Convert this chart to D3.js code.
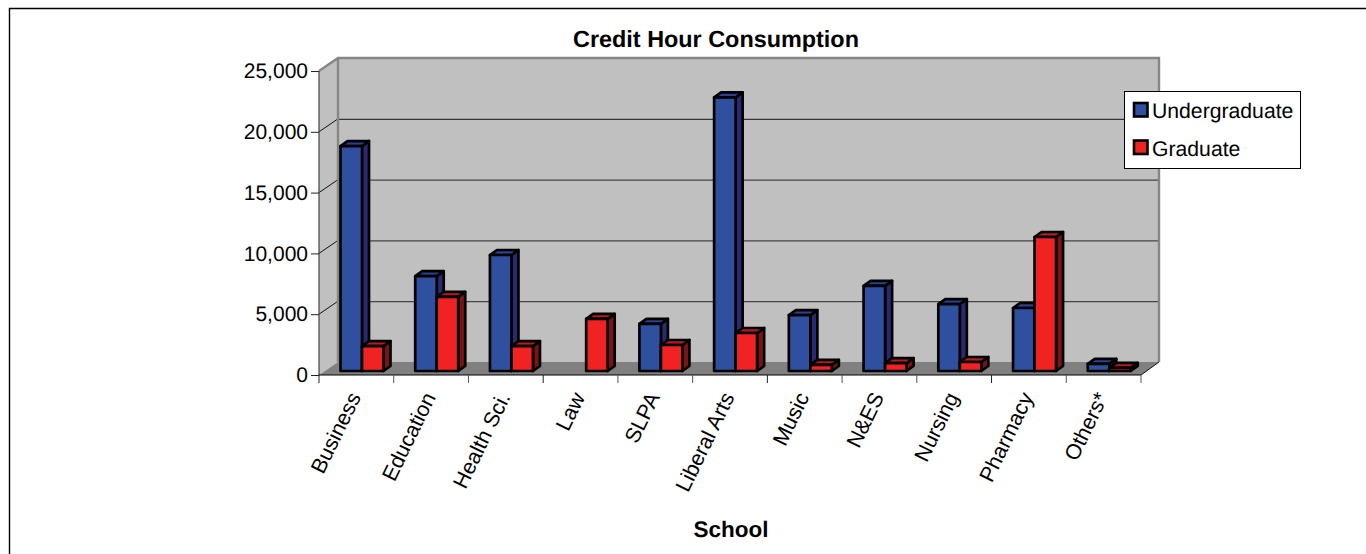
<!DOCTYPE html>
<html><head><meta charset="utf-8">
<script src="https://cdn.jsdelivr.net/npm/d3@7"></script>
<style>html,body{margin:0;padding:0;background:#fff}svg{display:block}text{font-family:"Liberation Sans",Arial,sans-serif;fill:#000;text-rendering:geometricPrecision}</style>
</head><body><div id="c"></div>
<script>
const categories = ["Business","Education","Health Sci.","Law","SLPA","Liberal Arts","Music","N&ES","Nursing","Pharmacy","Others*"];
const undergraduate = [18500,7800,9540,0,3870,22500,4600,7000,5500,5180,580];
const graduate = [2050,6100,2050,4280,2140,3125,500,650,740,11020,250];
const seriesNames = ["Undergraduate","Graduate"];
const yTicks = [0,5000,10000,15000,20000,25000];

const W=1366,H=554;
const svg=d3.select("#c").append("svg").attr("width",W).attr("height",H);
const x0=319,x1=1141,yB=375,yT=71;
const wx=19,wy=13;
const x=d3.scaleBand().domain(categories).range([x0,x1]);
const y=d3.scaleLinear().domain([0,25000]).range([yB,yT]);
const inner=d3.scaleBand().domain(seriesNames).range([21.5,64.5]);
const colors={Undergraduate:{f:"#2f4f9f",t:"#2b4090",s:"#2a2a72"},Graduate:{f:"#f02222",t:"#b01e1e",s:"#7c1414"}};
const by=4,dx=7,dy=5;

// frame
svg.append("path").attr("d",`M9.5,${H}V8.5H${W}`).attr("fill","none").attr("stroke","#000").attr("stroke-width",1.4);

// walls
svg.append("polygon").attr("points",[[x0,yB],[x0+wx,yB-wy],[x0+wx,yT-wy],[x0,yT]].join(" ")).attr("fill","#c0c0c0");
svg.append("rect").attr("x",x0+wx).attr("y",yT-wy).attr("width",x1-x0).attr("height",yB-yT).attr("fill","#c0c0c0");
svg.append("polygon").attr("points",[[x0,yB],[x0+wx,yB-wy],[x1+wx-1,yB-wy],[x1,yB]].join(" ")).attr("fill","#808080");

// gridlines
const gridCol=d=>d>=20000?"#111":"#444";
svg.selectAll(".g").data(yTicks.filter(d=>d>0&&d<25000)).join("line")
  .attr("x1",x0+wx).attr("x2",x1+wx-1).attr("y1",d=>y(d)-wy+.5).attr("y2",d=>y(d)-wy+.5)
  .attr("stroke",gridCol).attr("stroke-width",d=>d>=20000?1:1.3);
svg.selectAll(".d").data(yTicks.filter(d=>d>0&&d<25000)).join("line")
  .attr("x1",x0).attr("x2",x0+wx).attr("y1",d=>y(d)).attr("y2",d=>y(d)-wy)
  .attr("stroke","#111").attr("stroke-width",1);

// wall outlines
svg.append("path").attr("d",`M${x0},${yT}L${x0+wx},${yT-wy}H${x1+wx-1}V${yB-wy}M${x0+wx},${yT-wy}V${yB-wy}`)
  .attr("fill","none").attr("stroke","#868686").attr("stroke-width",2.4);

// axes
const axL=d3.axisLeft(y).tickValues(yTicks).tickFormat(d3.format(",")).tickSize(8).tickPadding(3);
const gL=svg.append("g").attr("transform",`translate(${x0},0)`).call(axL);
gL.selectAll("text").attr("font-size",21).attr("font-family",'"Liberation Sans"');
gL.selectAll(".tick line").attr("stroke","#222");
gL.select(".domain").attr("stroke","#444").attr("stroke-width",1.2).attr("d",`M0,${yT}V${yB}`);

// bars
const rows=categories.map((c,i)=>({c,vals:[undergraduate[i],graduate[i]]}));
const g=svg.append("g").attr("stroke","#000").attr("stroke-width",2.7).attr("stroke-linejoin","round");
rows.forEach(r=>{
  r.vals.forEach((v,k)=>{
    if(!v) return;
    const n=seriesNames[k],col=colors[n];
    const l=x(r.c)+inner(n),w=inner.bandwidth(),t=y(v)-by,b=yB-by;
    g.append("polygon").attr("points",[[l+w,t],[l+w+dx,t-dy],[l+w+dx,b-dy],[l+w,b]].join(" ")).attr("fill",col.s);
    g.append("polygon").attr("points",[[l,t],[l+dx,t-dy],[l+w+dx,t-dy],[l+w,t]].join(" ")).attr("fill",col.t);
    g.append("rect").attr("x",l).attr("y",t).attr("width",w).attr("height",b-t).attr("fill",col.f);
  });
});

// floor front + x axis
svg.append("line").attr("x1",x1).attr("x2",x1+wx-1).attr("y1",yB).attr("y2",yB-wy).attr("stroke","#111");
const axB=d3.axisBottom(x).tickSize(0).tickFormat("");
const gB=svg.append("g").attr("transform",`translate(0,${yB})`).call(axB);
gB.select(".domain").attr("stroke","#000").attr("stroke-width",1.2).attr("d",`M${x0},0H${x1}`);
gB.selectAll(".tick").remove();
const edges=categories.map(c=>x(c)).concat([x1]);
svg.selectAll(".xt").data(edges).join("line").attr("x1",d=>d).attr("x2",d=>d).attr("y1",yB).attr("y2",yB+8)
  .attr("stroke",(d,i)=>i%3==0?"#222":"#555").attr("stroke-width",1);
svg.selectAll(".xl").data(categories).join("text")
  .attr("transform",c=>`translate(${x(c)+x.bandwidth()/2+5},${yB+22}) rotate(-64)`)
  .attr("text-anchor","end").attr("font-size",21.4).text(c=>c);

// titles
svg.append("text").attr("x",716).attr("y",47).attr("text-anchor","middle").attr("font-weight","bold").attr("font-size",23.4).text("Credit Hour Consumption");
svg.append("text").attr("x",731).attr("y",537).attr("text-anchor","middle").attr("font-weight","bold").attr("font-size",22.5).text("School");

// legend
svg.append("rect").attr("x",1124.5).attr("y",91.5).attr("width",176).attr("height",77).attr("fill","#fff").attr("stroke","#000").attr("stroke-width",1);
seriesNames.forEach((n,i)=>{
  const yy=103+i*37.5;
  svg.append("rect").attr("x",1134).attr("y",yy).attr("width",13.5).attr("height",13.5).attr("fill",colors[n].f).attr("stroke","#000").attr("stroke-width",2.6);
  svg.append("text").attr("x",1152).attr("y",yy+15).attr("font-size",21.2).text(n);
});
</script></body></html>
